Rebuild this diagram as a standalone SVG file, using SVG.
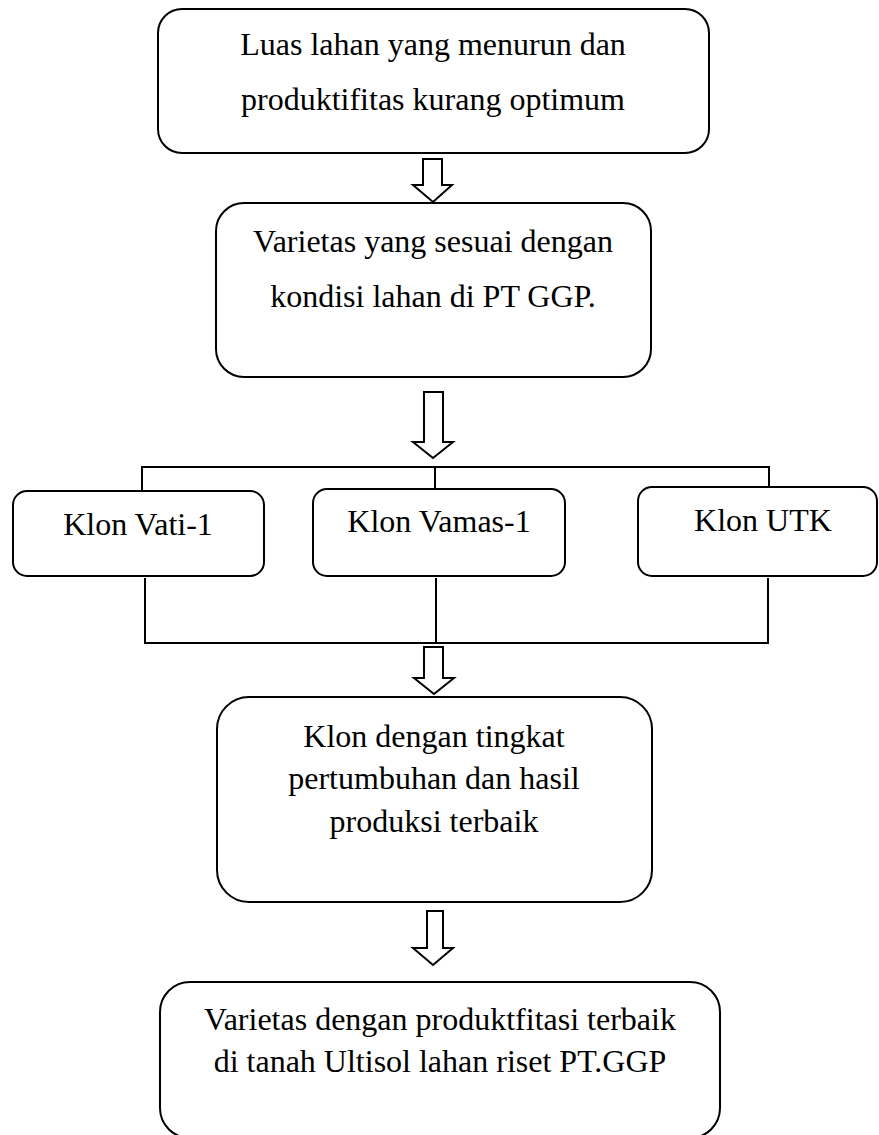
<svg xmlns="http://www.w3.org/2000/svg" width="879" height="1135" viewBox="0 0 879 1135">
<style>
.box{fill:#fff;stroke:#000;stroke-width:2}
.t{font-family:"Liberation Serif","Times New Roman",serif;font-size:32px;fill:#000;text-anchor:middle}
.ln{fill:none;stroke:#000;stroke-width:2}
.arr{fill:#fff;stroke:#000;stroke-width:2;stroke-linejoin:miter}
</style>
<rect width="879" height="1135" fill="#fff"/>
<g id="connectors">
<path class="ln" d="M142 491 V467 H769 V489"/>
<path class="ln" d="M435 467 V489"/>
<path class="ln" d="M145 578 V643 H768 V578"/>
<path class="ln" d="M436 578 V643"/>
<polygon class="arr" points="423,159 442,159 442,185 452,185 433,202 413,185 423,185"/>
<polygon class="arr" points="424,392 443,392 443,442 453,442 433,458 413,442 424,442"/>
<polygon class="arr" points="424,647 443,647 443,678 454,678 434,694 414,678 424,678"/>
<polygon class="arr" points="427,911 443,911 443,948 453,948 433,965 413,948 427,948"/>
</g>
<g id="node1">
<rect class="box" x="158" y="9" width="551" height="144" rx="24"/>
<text class="t" x="433" y="55">Luas lahan yang menurun dan</text>
<text class="t" x="433" y="110">produktifitas kurang optimum</text>
</g>
<g id="node2">
<rect class="box" x="216" y="203" width="435" height="174" rx="28"/>
<text class="t" x="433" y="252">Varietas yang sesuai dengan</text>
<text class="t" x="433" y="307">kondisi lahan di PT GGP.</text>
</g>
<g id="node3">
<rect class="box" x="13" y="491" width="251" height="85" rx="14"/>
<text class="t" x="138" y="535">Klon Vati-1</text>
</g>
<g id="node4">
<rect class="box" x="313" y="489" width="252" height="87" rx="14"/>
<text class="t" x="439" y="532">Klon Vamas-1</text>
</g>
<g id="node5">
<rect class="box" x="638" y="487" width="239" height="89" rx="14"/>
<text class="t" x="763" y="531">Klon UTK</text>
</g>
<g id="node6">
<rect class="box" x="217" y="697" width="435" height="205" rx="32"/>
<text class="t" x="434" y="747">Klon dengan tingkat</text>
<text class="t" x="434" y="789">pertumbuhan dan hasil</text>
<text class="t" x="434" y="832">produksi terbaik</text>
</g>
<g id="node7">
<rect class="box" x="160" y="982" width="560" height="156" rx="30"/>
<text class="t" x="440" y="1030">Varietas dengan produktfitasi terbaik</text>
<text class="t" x="440" y="1072">di tanah Ultisol lahan riset PT.GGP</text>
</g>
</svg>
